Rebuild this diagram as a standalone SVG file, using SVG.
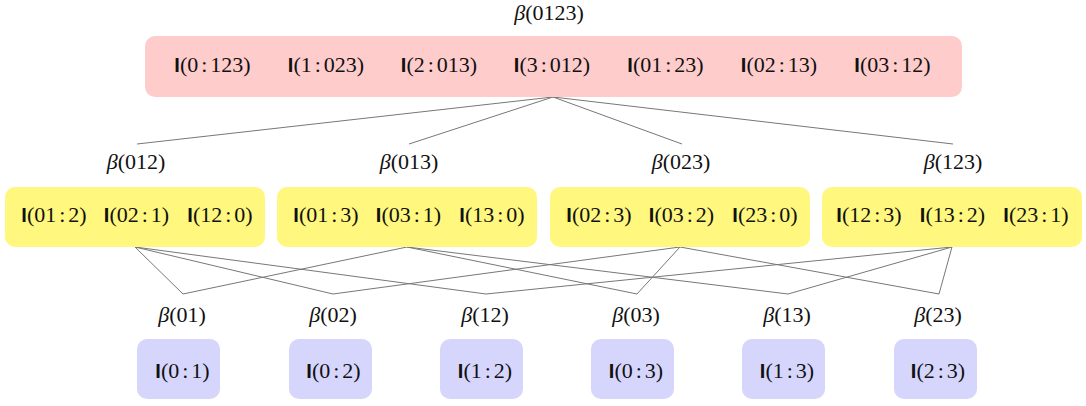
<svg xmlns="http://www.w3.org/2000/svg" width="1086" height="406" viewBox="0 0 1086 406">
<style>
text{font-family:"Liberation Serif","DejaVu Serif",serif;font-size:22px;fill:#111;text-anchor:middle}
.b{font-style:italic}
.i{font-family:"Liberation Sans","DejaVu Sans",sans-serif;font-weight:bold;font-size:20px}
.top{fill:#ffcccc}
.mid{fill:#fff77e}
.low{fill:#d6d6fd}
#connectors line{stroke:#777;stroke-width:1}
</style>
<rect width="1086" height="406" fill="#fff"/>
<g id="connectors">
<line x1="553" y1="97" x2="137" y2="144"/>
<line x1="553" y1="97" x2="409" y2="144"/>
<line x1="553" y1="97" x2="682" y2="144"/>
<line x1="553" y1="97" x2="953" y2="144"/>
<line x1="135" y1="247" x2="183" y2="294"/>
<line x1="135" y1="247" x2="333" y2="294"/>
<line x1="135" y1="247" x2="486" y2="294"/>
<line x1="407" y1="247" x2="183" y2="294"/>
<line x1="407" y1="247" x2="637" y2="294"/>
<line x1="407" y1="247" x2="788" y2="294"/>
<line x1="680" y1="247" x2="333" y2="294"/>
<line x1="680" y1="247" x2="637" y2="294"/>
<line x1="680" y1="247" x2="939" y2="294"/>
<line x1="952" y1="247" x2="486" y2="294"/>
<line x1="952" y1="247" x2="788" y2="294"/>
<line x1="952" y1="247" x2="939" y2="294"/>
</g>
<g id="n0123">
<text x="549" y="20"><tspan class="b">β</tspan>(0123)</text>
<rect class="top" x="145" y="36" width="817" height="61" rx="10"/>
<text x="212.5" y="72"><tspan class="i">I</tspan>(0<tspan dx="3">:</tspan><tspan dx="3">123)</tspan></text>
<text x="326" y="72"><tspan class="i">I</tspan>(1<tspan dx="3">:</tspan><tspan dx="3">023)</tspan></text>
<text x="439" y="72"><tspan class="i">I</tspan>(2<tspan dx="3">:</tspan><tspan dx="3">013)</tspan></text>
<text x="552" y="72"><tspan class="i">I</tspan>(3<tspan dx="3">:</tspan><tspan dx="3">012)</tspan></text>
<text x="665.5" y="72"><tspan class="i">I</tspan>(01<tspan dx="3">:</tspan><tspan dx="3">23)</tspan></text>
<text x="779" y="72"><tspan class="i">I</tspan>(02<tspan dx="3">:</tspan><tspan dx="3">13)</tspan></text>
<text x="892.5" y="72"><tspan class="i">I</tspan>(03<tspan dx="3">:</tspan><tspan dx="3">12)</tspan></text>
</g>
<g id="n012">
<text x="136" y="169"><tspan class="b">β</tspan>(012)</text>
<rect class="mid" x="5" y="187" width="260" height="60" rx="10"/>
<text x="54" y="222"><tspan class="i">I</tspan>(01<tspan dx="3">:</tspan><tspan dx="3">2)</tspan></text>
<text x="136.5" y="222"><tspan class="i">I</tspan>(02<tspan dx="3">:</tspan><tspan dx="3">1)</tspan></text>
<text x="220" y="222"><tspan class="i">I</tspan>(12<tspan dx="3">:</tspan><tspan dx="3">0)</tspan></text>
</g>
<g id="n013">
<text x="409" y="169"><tspan class="b">β</tspan>(013)</text>
<rect class="mid" x="277" y="187" width="260" height="60" rx="10"/>
<text x="326" y="222"><tspan class="i">I</tspan>(01<tspan dx="3">:</tspan><tspan dx="3">3)</tspan></text>
<text x="408.5" y="222"><tspan class="i">I</tspan>(03<tspan dx="3">:</tspan><tspan dx="3">1)</tspan></text>
<text x="492" y="222"><tspan class="i">I</tspan>(13<tspan dx="3">:</tspan><tspan dx="3">0)</tspan></text>
</g>
<g id="n023">
<text x="681" y="169"><tspan class="b">β</tspan>(023)</text>
<rect class="mid" x="550" y="187" width="260" height="60" rx="10"/>
<text x="599" y="222"><tspan class="i">I</tspan>(02<tspan dx="3">:</tspan><tspan dx="3">3)</tspan></text>
<text x="681.5" y="222"><tspan class="i">I</tspan>(03<tspan dx="3">:</tspan><tspan dx="3">2)</tspan></text>
<text x="765" y="222"><tspan class="i">I</tspan>(23<tspan dx="3">:</tspan><tspan dx="3">0)</tspan></text>
</g>
<g id="n123">
<text x="953" y="169"><tspan class="b">β</tspan>(123)</text>
<rect class="mid" x="822" y="187" width="260" height="60" rx="10"/>
<text x="869" y="222"><tspan class="i">I</tspan>(12<tspan dx="3">:</tspan><tspan dx="3">3)</tspan></text>
<text x="952.5" y="222"><tspan class="i">I</tspan>(13<tspan dx="3">:</tspan><tspan dx="3">2)</tspan></text>
<text x="1036" y="222"><tspan class="i">I</tspan>(23<tspan dx="3">:</tspan><tspan dx="3">1)</tspan></text>
</g>
<g id="n01">
<text x="182" y="322"><tspan class="b">β</tspan>(01)</text>
<rect class="low" x="137" y="339" width="83" height="60" rx="10"/>
<text x="182.5" y="378"><tspan class="i">I</tspan>(0<tspan dx="3">:</tspan><tspan dx="3">1)</tspan></text>
</g>
<g id="n02">
<text x="333" y="322"><tspan class="b">β</tspan>(02)</text>
<rect class="low" x="289" y="339" width="83" height="60" rx="10"/>
<text x="333.5" y="378"><tspan class="i">I</tspan>(0<tspan dx="3">:</tspan><tspan dx="3">2)</tspan></text>
</g>
<g id="n12">
<text x="485" y="322"><tspan class="b">β</tspan>(12)</text>
<rect class="low" x="440" y="339" width="83" height="60" rx="10"/>
<text x="485" y="378"><tspan class="i">I</tspan>(1<tspan dx="3">:</tspan><tspan dx="3">2)</tspan></text>
</g>
<g id="n03">
<text x="636" y="322"><tspan class="b">β</tspan>(03)</text>
<rect class="low" x="591" y="339" width="83" height="60" rx="10"/>
<text x="636" y="378"><tspan class="i">I</tspan>(0<tspan dx="3">:</tspan><tspan dx="3">3)</tspan></text>
</g>
<g id="n13">
<text x="787" y="322"><tspan class="b">β</tspan>(13)</text>
<rect class="low" x="742" y="339" width="83" height="60" rx="10"/>
<text x="787" y="378"><tspan class="i">I</tspan>(1<tspan dx="3">:</tspan><tspan dx="3">3)</tspan></text>
</g>
<g id="n23">
<text x="938" y="322"><tspan class="b">β</tspan>(23)</text>
<rect class="low" x="894" y="339" width="83" height="60" rx="10"/>
<text x="938" y="378"><tspan class="i">I</tspan>(2<tspan dx="3">:</tspan><tspan dx="3">3)</tspan></text>
</g>
</svg>
